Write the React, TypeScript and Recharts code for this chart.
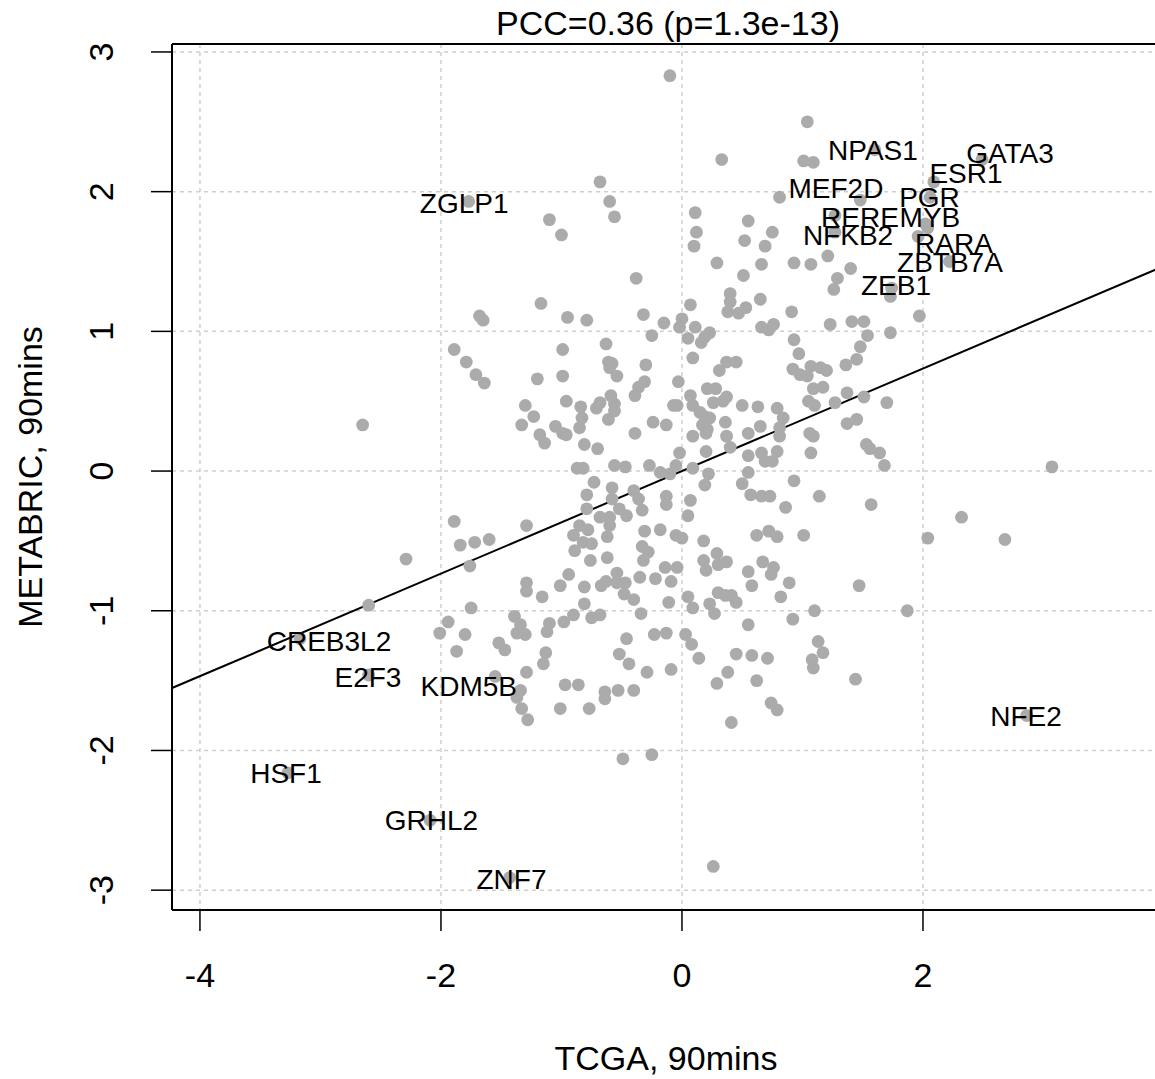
import React from 'react';
import { ScatterChart, Scatter, XAxis, YAxis, CartesianGrid, ReferenceLine } from 'recharts';

// TCGA (x) values of every gene
const tcga = [
  -1.77, -1.68, -1.65, -1.89, -1.79, -1.71, -1.64, -2.65, -1.30, -1.33,
  -1.89, -1.84, -1.72, -1.60, -2.29, -1.76, -2.60, -1.75, -1.94, -2.01, -1.80, -1.87, -1.52, -1.47, -2.60, -1.55, -1.29, -1.29, -1.29, -1.39, -1.34, -1.37, -1.30, -1.29, -1.34, -1.37, -1.33, -1.28,
  -0.68, -0.60, -0.56, -1.10, -1.00, -0.38, -1.17, -0.95, -0.79, -0.32,
  -0.15, 0.00, -0.02, -0.25, 0.05, -0.99, -0.63, -0.61, -0.58, -0.60,
  -0.54, -0.30, -0.99, -1.20, -0.03, -0.31, -0.36, -0.39, -0.96, -0.84,
  -0.71, -0.68, -0.59, -0.56, -0.56, -0.61, -0.83, -0.85, -1.05, -0.99,
  -0.96, -1.23, -1.18, -1.14, -0.81, -0.70, -0.39, -0.24, -0.13, -0.07,
  -0.04,
  -0.02, -0.87, -0.82, -0.56, -0.47, -0.27, -0.18, -0.10, -0.05, -0.73,
  -0.79, -0.58, -0.58, -0.40, -0.36, -0.13, -0.13, 0.07, 0.05, -0.33,
  -0.79, -0.52, -0.46, -0.68, -0.60, -0.60, -0.85, -0.78, -0.90, -0.82,
  -0.75, -0.62, -0.31, -0.18, -0.05, 0.00, -0.89, -0.33, -0.28,
  -0.32, -0.76, -0.62, -0.14, -0.04, -0.94, -1.01, -0.81, -0.67, -0.63,
  -0.54, -0.54, -0.47, -0.35, -0.22, -0.09, -0.48, -0.40, -0.81, -0.11,
  0.05, -1.16, -0.34, -1.10, -0.98, -0.90, -0.75, -0.68,
  -1.12, -0.46, -0.23, -0.13, 0.03, -1.13, -1.15, -0.52, -0.44, -0.29, -0.09, -0.97, -0.86, -0.64, -0.64, -0.53, -0.40, -1.01, -0.77, -0.49, -0.25,
  0.33, 1.01, 1.09, 0.81, 0.11, 0.12, 0.10, 0.55, 0.52, 0.75,
  0.69, 0.66, 0.29, 0.51, 0.93, 1.07, 1.21, 1.29, 1.26, 0.40,
  0.40, 0.65, 0.07, 0.38, 0.47, 0.53, 0.91, 0.11, 0.66, 0.72,
  0.76, 1.23, 0.19, 0.23, 0.16, 0.93, 0.97, 0.09, 0.37, 0.45,
  0.31, 0.92, 0.98, 1.04, 1.07, 1.15, 1.20, 0.21, 0.28, 1.09,
  1.17, 0.07, 0.09, 0.26, 0.34, 0.37, 0.50, 0.63, 0.79, 0.84,
  1.05, 1.10, 1.27, 0.15, 0.19, 0.23, 0.17, 0.21, 0.20, 0.36,
  0.09, 0.37, 0.55, 0.65, 0.81, 0.81, 1.06, 1.09, 0.40,
  0.20, 0.55, 0.66, 0.79, 1.07, 0.69, 0.75, 0.09, 0.22, 0.55,
  0.19, 0.50, 0.93, 0.57, 0.66, 0.73, 1.14, 0.86, 0.62, 0.72,
  0.79, 1.01, 0.18, 0.18, 0.20, 0.29, 0.30, 0.37, 0.67, 0.76,
  0.74, 0.55, 0.58, 0.89, 0.82, 0.09, 0.23, 0.27, 0.30, 0.36,
  0.41, 0.45, 0.92, 1.10, 0.55,
  0.08, 0.14, 0.45, 0.58, 0.71, 0.38, 0.29, 0.62, 0.74, 0.79,
  0.41, 1.13, 1.17, 1.08, 1.09, 0.26,
  1.60, 2.49, 2.09, 1.48, 2.06, 2.02, 2.04, 1.96, 2.22, 1.74,
  1.73, 1.40, 1.97, 1.41, 1.51, 1.54, 1.73, 1.48, 1.36, 1.45,
  1.37, 1.51, 1.70, 1.37, 1.45, 1.53, 1.56, 1.64, 1.68,
  3.07, 1.57, 2.32, 2.04, 2.68, 1.47, 1.87, 1.44, 2.86,
  -0.10, 1.04, 1.27, 1.27, -3.17, -3.27, -2.09, -1.43,
];

// METABRIC (y) values, same order as tcga
const metabric = [
  1.93, 1.11, 1.08, 0.87, 0.78, 0.69, 0.63, 0.33, 0.47, 0.33,
  -0.36, -0.53, -0.51, -0.49, -0.63, -0.68, -0.96, -0.98, -1.08, -1.16, -1.17, -1.29, -1.23, -1.28, -1.46, -1.47, -0.39, -0.80, -0.86, -1.04, -1.10, -1.16, -1.17, -1.44, -1.57, -1.62, -1.70, -1.78,
  2.07, 1.93, 1.82, 1.80, 1.69, 1.38, 1.20, 1.10, 1.08, 1.12,
  1.06, 1.09, 1.03, 0.97, 0.95, 0.87, 0.91, 0.78, 0.77, 0.74,
  0.68, 0.76, 0.68, 0.66, 0.64, 0.64, 0.60, 0.54, 0.50, 0.46,
  0.45, 0.49, 0.54, 0.48, 0.43, 0.37, 0.38, 0.31, 0.32, 0.27,
  0.26, 0.39, 0.26, 0.20, 0.19, 0.16, 0.27, 0.35, 0.33, 0.47,
  0.47,
  0.13, 0.02, 0.02, 0.04, 0.03, 0.04, -0.01, -0.02, 0.04, -0.08,
  -0.17, -0.12, -0.20, -0.14, -0.20, -0.18, -0.24, -0.21, -0.32, -0.28,
  -0.27, -0.27, -0.32, -0.33, -0.33, -0.39, -0.39, -0.42, -0.46, -0.51,
  -0.52, -0.47, -0.43, -0.42, -0.46, -0.48, -0.57, -0.54, -0.58,
  -0.64, -0.64, -0.62, -0.69, -0.69, -0.74, -0.82, -0.83, -0.82, -0.79,
  -0.73, -0.80, -0.80, -0.76, -0.77, -0.79, -0.88, -0.92, -0.95, -0.94,
  -0.90, -0.90, -1.02, -1.09, -1.08, -1.03, -1.05, -1.03,
  -1.15, -1.20, -1.17, -1.16, -1.17, -1.30, -1.38, -1.31, -1.38, -1.44, -1.42, -1.53, -1.53, -1.58, -1.63, -1.57, -1.57, -1.70, -1.70, -2.06, -2.03,
  2.23, 2.22, 2.21, 1.96, 1.85, 1.71, 1.61, 1.79, 1.65, 1.71,
  1.61, 1.48, 1.49, 1.40, 1.49, 1.48, 1.54, 1.38, 1.30, 1.27,
  1.21, 1.23, 1.19, 1.14, 1.13, 1.17, 1.14, 1.03, 1.03, 1.01,
  1.05, 1.05, 0.96, 0.99, 0.92, 0.94, 0.84, 0.81, 0.78, 0.78,
  0.72, 0.73, 0.69, 0.68, 0.75, 0.74, 0.72, 0.59, 0.59, 0.59,
  0.60, 0.54, 0.47, 0.49, 0.50, 0.53, 0.47, 0.46, 0.45, 0.38,
  0.50, 0.47, 0.49, 0.42, 0.39, 0.38, 0.33, 0.30, 0.27, 0.35,
  0.25, 0.25, 0.27, 0.32, 0.31, 0.25, 0.27, 0.25, 0.17,
  0.14, 0.11, 0.13, 0.14, 0.13, 0.07, 0.07, 0.02, -0.02, -0.01,
  -0.10, -0.09, -0.07, -0.17, -0.18, -0.18, -0.18, -0.26, -0.46, -0.43,
  -0.47, -0.46, -0.50, -0.64, -0.71, -0.59, -0.67, -0.65, -0.65, -0.69,
  -0.74, -0.72, -0.82, -0.80, -0.90, -0.98, -0.95, -1.02, -0.87, -0.89,
  -0.89, -0.94, -1.06, -1.00, -1.10,
  -1.24, -1.34, -1.31, -1.32, -1.34, -1.44, -1.52, -1.50, -1.66, -1.71,
  -1.80, -1.22, -1.30, -1.35, -1.41, -2.83,
  2.30, 2.23, 2.07, 1.94, 1.96, 1.77, 1.74, 1.68, 1.50, 1.31,
  1.25, 1.45, 1.11, 1.07, 1.07, 0.97, 0.99, 0.89, 0.76, 0.80,
  0.56, 0.53, 0.49, 0.34, 0.37, 0.19, 0.16, 0.13, 0.04,
  0.03, -0.24, -0.33, -0.48, -0.49, -0.82, -1.00, -1.49, -1.75,
  2.83, 2.50, 1.71, 1.83, -1.20, -2.16, -2.50, -2.91,
];

// Annotated genes and where their labels sit (data units)
const geneNames = ['NPAS1', 'GATA3', 'ESR1', 'MEF2D', 'PGR', 'RERE', 'MYB', 'NFKB2', 'RARA', 'ZBTB7A', 'ZEB1', 'ZGLP1', 'CREB3L2', 'E2F3', 'KDM5B', 'NFE2', 'HSF1', 'GRHL2', 'ZNF7'];
const geneLabelX = [1.585, 2.722, 2.357, 1.278, 2.054, 1.477, 2.058, 1.378, 2.257, 2.224, 1.776, -1.807, -2.929, -2.606, -1.769, 2.855, -3.286, -2.079, -1.415];
const geneLabelY = [2.295, 2.274, 2.131, 2.024, 1.964, 1.820, 1.820, 1.687, 1.632, 1.498, 1.335, 1.916, -1.213, -1.472, -1.538, -1.752, -2.162, -2.498, -2.920];

const xTicks = [-4, -2, 0, 2];
const yTicks = [-3, -2, -1, 0, 1, 2, 3];
const xDomain = [-4.232, 3.967];
const yDomain = [-3.142, 3.057];
const fitSlope = 0.367;
const fitIntercept = 0.0;

const FONT = '"Liberation Sans", Arial, Helvetica, sans-serif';

const points = tcga.map((x, i) => ({ x, y: metabric[i] }));
const labels = geneNames.map((name, i) => ({ x: geneLabelX[i], y: geneLabelY[i], name }));

const renderDot = (p: any) => <circle cx={p.cx} cy={p.cy} r={6.4} fill="#ABABAB" />;
const renderLabel = (p: any) => (
  <text x={p.cx} y={p.cy} dy={10} textAnchor="middle" fontSize={28} fontFamily={FONT} fill="#000">
    {p.payload.name}
  </text>
);

const XTick = (p: any) => (
  <text x={p.x} y={p.y} dy={54} textAnchor="middle" fontSize={34} fontFamily={FONT} fill="#000">
    {p.payload.value}
  </text>
);
const YTick = (p: any) => {
  const x = p.x - 36;
  return (
    <text x={x} y={p.y} transform={`rotate(-90, ${x}, ${p.y})`} textAnchor="middle" fontSize={34} fontFamily={FONT} fill="#000">
      {p.payload.value}
    </text>
  );
};

export default function App() {
  return (
    <div style={{ position: 'absolute', left: 0, top: 0, width: 1155, height: 1079, overflow: 'hidden', background: '#fff' }}>
      <ScatterChart width={1160} height={1079} margin={{ top: 44, right: 0, bottom: 0, left: 0 }}>
        <CartesianGrid stroke="#CFCFCF" strokeDasharray="4 4" strokeWidth={1.5} />
        <XAxis
          type="number"
          dataKey="x"
          domain={xDomain}
          ticks={xTicks}
          interval={0}
          allowDataOverflow
          height={169}
          axisLine={{ stroke: '#000', strokeWidth: 2 }}
          tickLine={{ stroke: '#000', strokeWidth: 1.5 }}
          tickSize={21}
          tick={XTick}
        />
        <YAxis
          type="number"
          dataKey="y"
          domain={yDomain}
          ticks={yTicks}
          interval={0}
          allowDataOverflow
          width={172}
          axisLine={{ stroke: '#000', strokeWidth: 2 }}
          tickLine={{ stroke: '#000', strokeWidth: 1.5 }}
          tickSize={21}
          tick={YTick}
        />
        <ReferenceLine y={yDomain[1]} stroke="#000" strokeWidth={2} ifOverflow="visible" />
        <Scatter data={points} shape={renderDot} isAnimationActive={false} />
        <ReferenceLine
          segment={[
            { x: xDomain[0], y: fitIntercept + fitSlope * xDomain[0] },
            { x: xDomain[1], y: fitIntercept + fitSlope * xDomain[1] },
          ]}
          stroke="#000"
          strokeWidth={2}
          ifOverflow="visible"
        />
        <Scatter data={labels} shape={renderLabel} isAnimationActive={false} />
      </ScatterChart>
      <svg width={1155} height={1079} style={{ position: 'absolute', left: 0, top: 0, pointerEvents: 'none' }}>
        <text x={668} y={35} textAnchor="middle" fontSize={34} fontFamily={FONT} fill="#000">PCC=0.36 (p=1.3e-13)</text>
        <text x={666} y={1070} textAnchor="middle" fontSize={34} fontFamily={FONT} fill="#000">TCGA, 90mins</text>
        <text x={42} y={477} transform="rotate(-90, 42, 477)" textAnchor="middle" fontSize={34} fontFamily={FONT} fill="#000">METABRIC, 90mins</text>
      </svg>
    </div>
  );
}
